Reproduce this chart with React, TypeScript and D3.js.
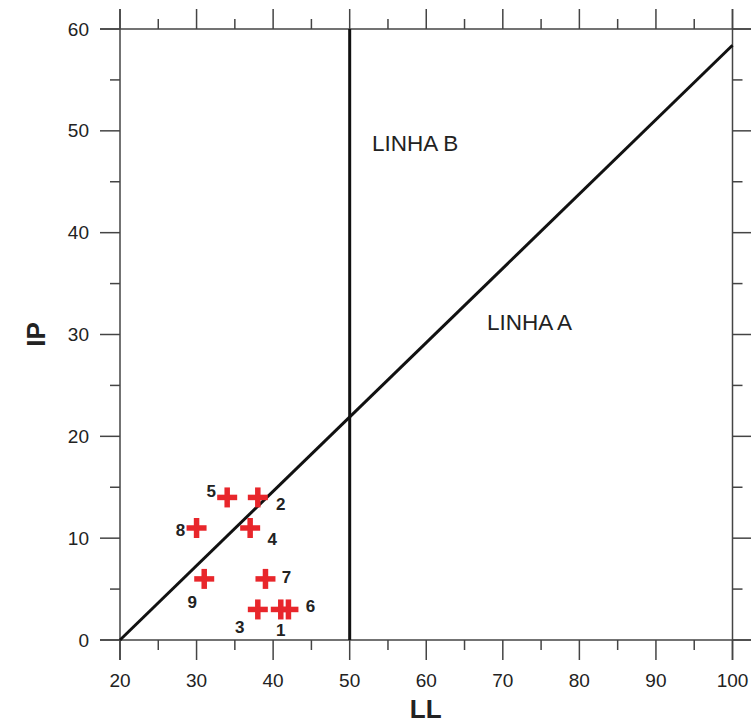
import React from "react";
import * as d3 from "d3";

const pointIds = ["1", "2", "3", "4", "5", "6", "7", "8", "9"];
const llValues = [41, 38, 38, 37, 34, 42, 39, 30, 31];
const ipValues = [3, 14, 3, 11, 14, 3, 6, 11, 6];
const labelDx = [0, 23, -18, 22, -16, 22, 21, -16, -12];
const labelDy = [21, 7, 18, 11, -6, -3, -2, 2, 23];
const xTicks = [20, 30, 40, 50, 60, 70, 80, 90, 100];
const yTicks = [0, 10, 20, 30, 40, 50, 60];
const lineA = [[20, 0], [100, 58.4]];
const lineB = [[50, 0], [50, 60]];

export default function App() {
  const W = 751, H = 724;
  const x0 = 120, x1 = 732.5, y0 = 640, y1 = 29;
  const x = d3.scaleLinear().domain([20, 100]).range([x0, x1]);
  const y = d3.scaleLinear().domain([0, 60]).range([y0, y1]);
  const line = d3.line<number[]>().x(d => x(d[0])).y(d => y(d[1]));
  const xMinor = d3.range(25, 100, 10);
  const yMinor = d3.range(5, 60, 10);
  const axisColor = "#444";
  const font = "Liberation Sans, Arial, sans-serif";
  const ext = 20;
  return (
    <svg width={W} height={H} style={{ position: "absolute", left: 0, top: 0, background: "#fff" }} fontFamily={font}>
      <g stroke={axisColor} strokeWidth={1.5} fill="none">
        <line x1={x0 - ext} x2={x1 + ext} y1={y1} y2={y1} />
        <line x1={x0 - ext} x2={x1 + ext} y1={y0} y2={y0} />
        <line x1={x0} x2={x0} y1={y1 - ext} y2={y0 + ext} />
        <line x1={x1} x2={x1} y1={y1 - ext} y2={y0 + ext} />
        {xTicks.map(t => (
          <g key={"xt" + t}>
            <line x1={x(t)} x2={x(t)} y1={y0} y2={y0 + 20} />
            <line x1={x(t)} x2={x(t)} y1={y1} y2={y1 - 20} />
          </g>
        ))}
        {xMinor.map(t => (
          <g key={"xm" + t}>
            <line x1={x(t)} x2={x(t)} y1={y0} y2={y0 + 10} />
            <line x1={x(t)} x2={x(t)} y1={y1} y2={y1 - 10} />
          </g>
        ))}
        {yTicks.map(t => (
          <g key={"yt" + t}>
            <line x1={x0} x2={x0 - 20} y1={y(t)} y2={y(t)} />
            <line x1={x1} x2={x1 + 20} y1={y(t)} y2={y(t)} />
          </g>
        ))}
        {yMinor.map(t => (
          <g key={"ym" + t}>
            <line x1={x0} x2={x0 - 10} y1={y(t)} y2={y(t)} />
            <line x1={x1} x2={x1 + 10} y1={y(t)} y2={y(t)} />
          </g>
        ))}
      </g>
      <g fontSize={19} fill="#222">
        {xTicks.map(t => (
          <text key={"xl" + t} x={x(t)} y={687} textAnchor="middle">{t}</text>
        ))}
        {yTicks.map(t => (
          <text key={"yl" + t} x={89} y={y(t) + 6.5} textAnchor="end">{t}</text>
        ))}
      </g>
      <path d={line(lineA) || ""} stroke="#111" strokeWidth={3} fill="none" />
      <path d={line(lineB) || ""} stroke="#111" strokeWidth={3} fill="none" />
      <text x={372} y={151} fontSize={22.5} fill="#222">LINHA B</text>
      <text x={487} y={330} fontSize={22.5} fill="#222">LINHA A</text>
      {pointIds.map((id, i) => {
        const cx = x(llValues[i]), cy = y(ipValues[i]);
        return (
          <g key={"p" + id}>
            <g stroke="#e8262b" strokeWidth={5.5}>
              <line x1={cx - 10} x2={cx + 10} y1={cy} y2={cy} />
              <line x1={cx} x2={cx} y1={cy - 10} y2={cy + 10} />
            </g>
            <text x={cx + labelDx[i]} y={cy + labelDy[i] + 6} fontSize={17} fontWeight="bold" fill="#222" textAnchor="middle">{id}</text>
          </g>
        );
      })}
      <text x={x(50) + 76} y={718} fontSize={26} fontWeight="bold" textAnchor="middle" fill="#222">LL</text>
      <text transform={`translate(45,${y(30)}) rotate(-90)`} fontSize={26} fontWeight="bold" textAnchor="middle" fill="#222">IP</text>
    </svg>
  );
}
